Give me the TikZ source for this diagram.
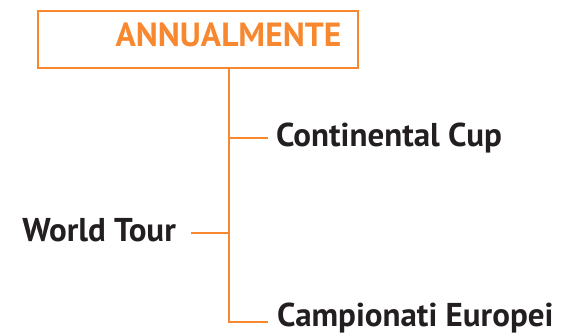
\documentclass[tikz,border=0pt]{standalone}
\usepackage{fontspec}
\setmainfont{PT Sans}
\usetikzlibrary{positioning, calc}
\definecolor{Orange}{HTML}{F7882F}
\definecolor{Ink}{HTML}{231F20}

\begin{document}
\begin{tikzpicture}[
    x=1pt, y=-1pt,
    headBox/.style={draw=Orange, line width=2.6pt, minimum width=320, minimum height=57},
    headText/.style={text=Orange, font=\bfseries\fontsize{33.5}{36}\selectfont, inner sep=0pt},
    leafText/.style={text=Ink, font=\bfseries\fontsize{33}{36}\selectfont, inner sep=0pt},
    branch/.style={draw=Orange, line width=2.6pt},
  ]
  \useasboundingbox (0,0) rectangle (561,334);
  \node[headBox] (annual) at (198,39.5) {};
  \node[headText, anchor=base] (annualT) at (228.5,47) {ANNUALMENTE};
  \node[leafText, anchor=base west] (continental) at (276,146) {Continental Cup};
  \node[leafText, anchor=base west] (europei) at (277,326) {Campionati Europei};
  \node[leafText, anchor=base east] (world) at (176,241) {World Tour};
  % lines
  \coordinate (trunkC) at (229,0);
  \draw[branch] (annual.south -| trunkC) |- ($(europei.base west)+(-9,-4)$);
  \draw[branch] ($(continental.base west)+(-8,-8)$) -- ($(continental.base west)+(-47,-8)$);
  \draw[branch] ($(world.base east)+(15,-8)$) -- ($(world.base east)+(53,-8)$);
\end{tikzpicture}
\end{document}
